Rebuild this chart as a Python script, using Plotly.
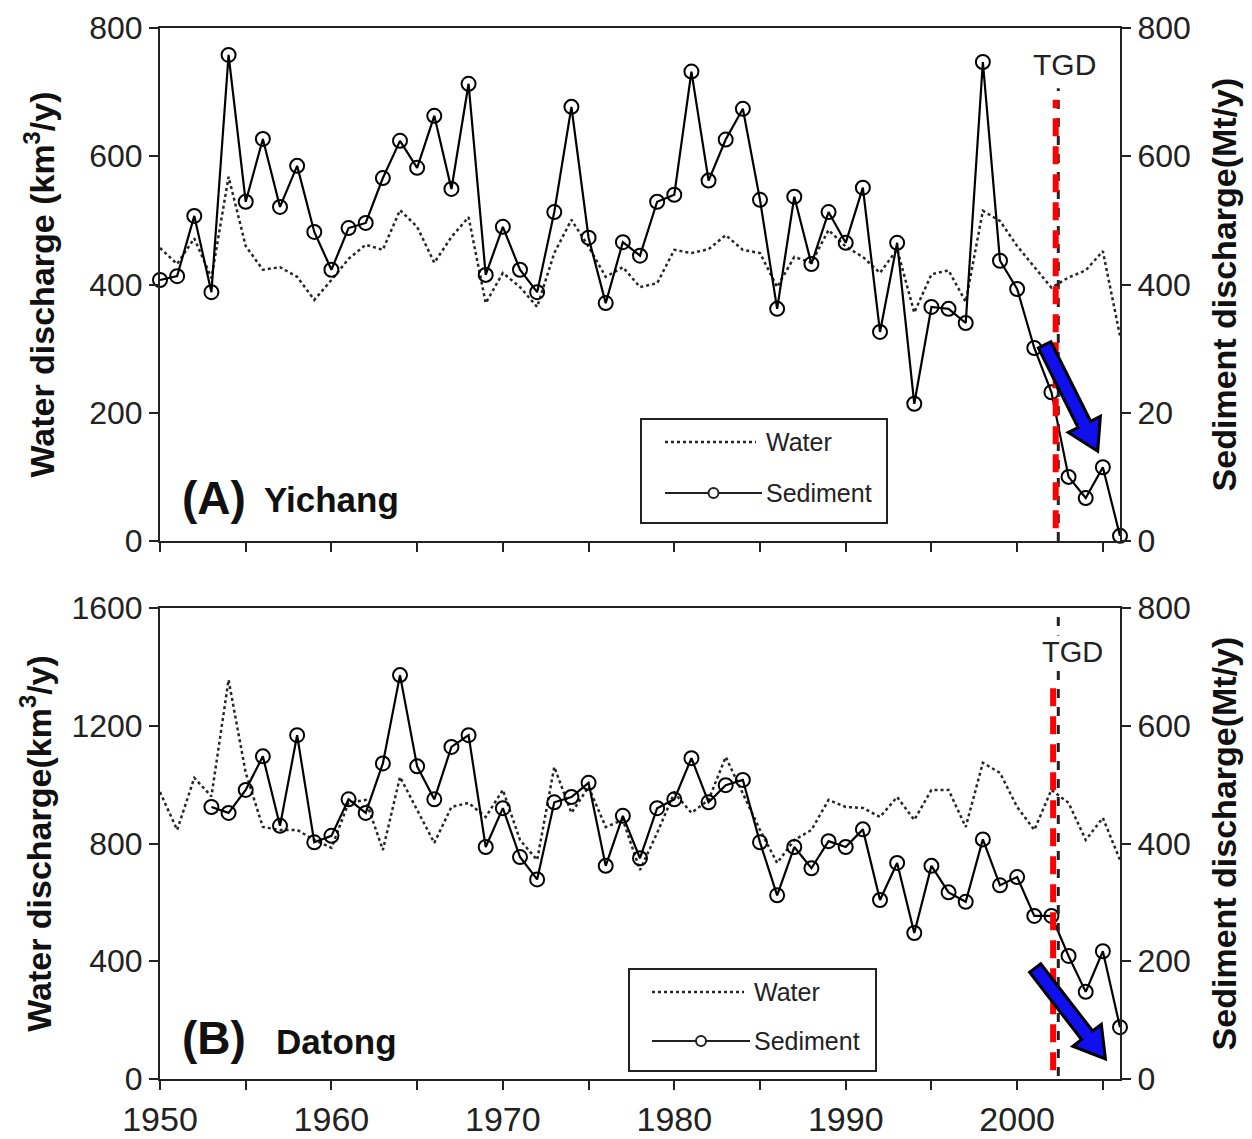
import math
import plotly.graph_objects as go

# ---------------- data ----------------
years = list(range(1950, 2007))
years_datong_sed = list(range(1953, 2007))

yichang_water = [457, 432, 472, 410, 568, 460, 423, 427, 412, 376,
                 407, 440, 462, 454, 516, 490, 434, 474, 505, 371,
                 418, 396, 365, 449, 501, 459, 412, 427, 396, 402,
                 454, 449, 455, 477, 454, 449, 396, 443, 434, 485,
                 459, 443, 418, 455, 356, 416, 422, 373, 515, 499,
                 460, 427, 395, 411, 422, 452, 320]
yichang_sed = [407, 413, 507, 388, 758, 529, 627, 521, 585, 482,
               423, 488, 496, 566, 624, 582, 663, 549, 713, 415,
               490, 423, 388, 513, 677, 473, 371, 466, 445, 529,
               540, 732, 562, 626, 674, 532, 362, 537, 432, 513,
               465, 551, 326, 465, 214, 365, 362, 340, 747, 437,
               393, 301, 232, 100, 67, 115, 8]

datong_water = [975, 846, 1023, 960, 1356, 1040, 856, 846, 846, 812,
                785, 938, 948, 778, 1026, 914, 802, 924, 938, 890,
                982, 812, 744, 1060, 904, 992, 856, 880, 710, 836,
                972, 904, 948, 1094, 972, 846, 734, 812, 846, 948,
                924, 921, 890, 958, 880, 982, 982, 856, 1074, 1040,
                924, 846, 982, 938, 812, 887, 744]
datong_sed = [462, 452, 491, 548, 430, 584, 402,
              413, 475, 452, 536, 686, 531, 475, 564, 584, 394,
              460, 377, 339, 470, 479, 503, 362, 447, 375, 460,
              475, 545, 470, 499, 508, 402, 312, 394, 358, 404,
              394, 424, 304, 367, 248, 362, 317, 301, 407, 329,
              343, 277, 277, 209, 148, 217, 88]

top_left_ticks = [0, 200, 400, 600, 800]
top_right_ticktext = ["0", "20", "400", "600", "800"]
bot_left_ticks = [0, 400, 800, 1200, 1600]
bot_right_ticks = [0, 200, 400, 600, 800]
tgd_year = 2002.4
tgd_red_year = 2002.25

# ---------------- layout geometry ----------------
# the page body adds an 8px offset; compensate so the plot area sits at
# x 160..1120 and y 28..1079 in the screenshot
OFF = 8
W, H = 1252 - OFF, 1139 - OFF
PX0, PX1, PY0, PY1 = 160, 1120, 28, 1079
ML = PX0 - OFF
MT = PY0 - OFF
MR = W - (PX1 - OFF)
MB = H - (PY1 - OFF)
PW = PX1 - PX0
PH = PY1 - PY0
top_dom = [(PY1 - 541) / PH, 1.0]
bot_dom = [0.0, (PY1 - 608) / PH]
XR = [1950, 2006]

FONT = "Liberation Sans, Arial, sans-serif"

fig = go.Figure()

water_style = dict(color="#262626", width=2.5, dash="dot")
sed_line = dict(color="black", width=2.2)
sed_marker = dict(symbol="circle-open", size=14, color="black", line=dict(width=2, color="black"))

fig.add_trace(go.Scatter(x=years, y=yichang_water, mode="lines", line=water_style,
                         name="Water", xaxis="x", yaxis="y", showlegend=False))
fig.add_trace(go.Scatter(x=years, y=yichang_sed, mode="lines+markers", line=sed_line,
                         marker=sed_marker, name="Sediment", xaxis="x", yaxis="y2",
                         showlegend=False, cliponaxis=False))
fig.add_trace(go.Scatter(x=years, y=datong_water, mode="lines", line=water_style,
                         name="Water", xaxis="x2", yaxis="y3", showlegend=False))
fig.add_trace(go.Scatter(x=years_datong_sed, y=datong_sed, mode="lines+markers", line=sed_line,
                         marker=sed_marker, name="Sediment", xaxis="x2", yaxis="y4",
                         showlegend=False, cliponaxis=False))

tickfont = dict(family=FONT, size=32, color="#222")
titlefont = dict(family=FONT, size=34, color="#111", weight="bold")

axis_common = dict(showline=True, linecolor="#222", linewidth=2, ticks="outside",
                   ticklen=9, tickwidth=2, tickcolor="#222", showgrid=False, zeroline=False,
                   automargin=False)
minor_x = dict(dtick=5, ticks="outside", ticklen=9, tickwidth=2, tickcolor="#222", showgrid=False)

fig.update_layout(
    width=W, height=H,
    margin=dict(l=ML, r=MR, t=MT, b=MB, autoexpand=False),
    paper_bgcolor="white", plot_bgcolor="white",
    font=dict(family=FONT, color="#222"),
    xaxis=dict(domain=[0, 1], anchor="y", range=XR, tick0=1950, dtick=10,
               showticklabels=False, minor=minor_x, mirror=True, **axis_common),
    yaxis=dict(domain=top_dom, anchor="x", range=[0, 800], tickvals=top_left_ticks,
               tickfont=tickfont,
               title=dict(text="Water discharge (km<sup>3</sup>/y)", font=titlefont, standoff=24),
               **axis_common),
    yaxis2=dict(overlaying="y", side="right", anchor="x", range=[0, 800],
                tickvals=top_left_ticks, ticktext=top_right_ticktext, tickfont=tickfont,
                title=dict(text="Sediment discharge(Mt/y)", font=titlefont, standoff=22),
                **axis_common),
    xaxis2=dict(domain=[0, 1], anchor="y3", range=XR, tick0=1950, dtick=10,
                tickfont=dict(family=FONT, size=34, color="#222"), minor=minor_x,
                mirror=True, **axis_common),
    yaxis3=dict(domain=bot_dom, anchor="x2", range=[0, 1600], tickvals=bot_left_ticks,
                tickfont=tickfont,
                title=dict(text="Water discharge(km<sup>3</sup>/y)", font=titlefont, standoff=10),
                **axis_common),
    yaxis4=dict(overlaying="y3", side="right", anchor="x2", range=[0, 800],
                tickvals=bot_right_ticks, tickfont=tickfont,
                title=dict(text="Sediment discharge(Mt/y)", font=titlefont, standoff=22),
                **axis_common),
)

# ---------------- TGD lines ----------------
shapes = []
shapes.append(dict(type="line", xref="x", yref="y", x0=tgd_year, x1=tgd_year, y0=0, y1=706,
                   line=dict(color="#222", width=3, dash="dash"), layer="above"))
shapes.append(dict(type="line", xref="x", yref="y", x0=tgd_red_year, x1=tgd_red_year, y0=20, y1=688,
                   line=dict(color="red", width=6, dash="18px,10px"), layer="above"))
shapes.append(dict(type="line", xref="x2", yref="y3", x0=tgd_year, x1=tgd_year, y0=10, y1=1590,
                   line=dict(color="#222", width=3, dash="dash"), layer="above"))
shapes.append(dict(type="line", xref="x2", yref="y3", x0=tgd_red_year - 0.15, x1=tgd_red_year - 0.15,
                   y0=30, y1=1330, line=dict(color="red", width=6, dash="18px,10px"), layer="above"))


# ---------------- block arrows ----------------
def arrow_path(x0, y0, x1, y1, sx, sy, half_shaft=7, half_head=18, head_len=30):
    X0, Y0, X1, Y1 = x0 * sx, y0 * sy, x1 * sx, y1 * sy
    dx, dy = X1 - X0, Y1 - Y0
    L = math.hypot(dx, dy)
    ux, uy = dx / L, dy / L
    nx, ny = -uy, ux
    bx, by = X1 - ux * head_len, Y1 - uy * head_len
    pts = [(X0 + nx * half_shaft, Y0 + ny * half_shaft),
           (bx + nx * half_shaft, by + ny * half_shaft),
           (bx + nx * half_head, by + ny * half_head),
           (X1, Y1),
           (bx - nx * half_head, by - ny * half_head),
           (bx - nx * half_shaft, by - ny * half_shaft),
           (X0 - nx * half_shaft, Y0 - ny * half_shaft)]
    return "M " + " L ".join(f"{px / sx:.4f},{py / sy:.4f}" for px, py in pts) + " Z"


sx = PW / (XR[1] - XR[0])
sy_top = (541 - PY0) / 800
sy_bot = (PY1 - 608) / 1600
shapes.append(dict(type="path", xref="x", yref="y",
                   path=arrow_path(2001.6, 306, 2004.7, 140, sx, sy_top),
                   fillcolor="#1010ee", line=dict(color="black", width=3), layer="above"))
shapes.append(dict(type="path", xref="x2", yref="y3",
                   path=arrow_path(2001.05, 377, 2005.15, 68, sx, sy_bot),
                   fillcolor="#1010ee", line=dict(color="black", width=3), layer="above"))


# ---------------- manual legends (paper coords from screenshot pixel positions) ----------------
def pxx(p):
    return (p - PX0) / PW


def pxy(p):
    return (PY1 - p) / PH


annotations = []


def legend_box(x0, y0, x1, y1, wy, sy_, lx0, lx1, tx):
    shapes.append(dict(type="rect", xref="paper", yref="paper", x0=pxx(x0), x1=pxx(x1),
                       y0=pxy(y1), y1=pxy(y0), line=dict(color="#222", width=2),
                       fillcolor="white", layer="above"))
    shapes.append(dict(type="line", xref="paper", yref="paper", x0=pxx(lx0), x1=pxx(lx1 - 6),
                       y0=pxy(wy), y1=pxy(wy), line=dict(color="#262626", width=2.6, dash="dot"),
                       layer="above"))
    shapes.append(dict(type="line", xref="paper", yref="paper", x0=pxx(lx0), x1=pxx(lx1),
                       y0=pxy(sy_), y1=pxy(sy_), line=dict(color="#222", width=2.2), layer="above"))
    cx = (lx0 + lx1) / 2
    shapes.append(dict(type="circle", xref="paper", yref="paper", x0=pxx(cx - 5), x1=pxx(cx + 5),
                       y0=pxy(sy_ + 5), y1=pxy(sy_ - 5), line=dict(color="#222", width=2),
                       fillcolor="white", layer="above"))
    annotations.append(dict(xref="paper", yref="paper", x=pxx(tx), y=pxy(wy), text="Water",
                            showarrow=False, xanchor="left", yanchor="middle",
                            font=dict(family=FONT, size=25, color="#222")))
    annotations.append(dict(xref="paper", yref="paper", x=pxx(tx), y=pxy(sy_), text="Sediment",
                            showarrow=False, xanchor="left", yanchor="middle",
                            font=dict(family=FONT, size=25, color="#222")))


legend_box(641, 419, 887, 523, 442, 493, 665, 762, 764)
legend_box(629, 969, 876, 1071, 992, 1041, 652, 750, 752)

# ---------------- text labels ----------------
annotations.append(dict(xref="paper", yref="paper", x=pxx(180), y=pxy(498), xanchor="left",
                        yanchor="middle", showarrow=False,
                        text="<b>(A)</b>", font=dict(family=FONT, size=46, color="#111")))
annotations.append(dict(xref="paper", yref="paper", x=pxx(262), y=pxy(499), xanchor="left",
                        yanchor="middle", showarrow=False,
                        text="<b>Yichang</b>", font=dict(family=FONT, size=35, color="#111")))
annotations.append(dict(xref="paper", yref="paper", x=pxx(180), y=pxy(1038), xanchor="left",
                        yanchor="middle", showarrow=False,
                        text="<b>(B)</b>", font=dict(family=FONT, size=46, color="#111")))
annotations.append(dict(xref="paper", yref="paper", x=pxx(274), y=pxy(1041), xanchor="left",
                        yanchor="middle", showarrow=False,
                        text="<b>Datong</b>", font=dict(family=FONT, size=35, color="#111")))
annotations.append(dict(xref="paper", yref="paper", x=pxx(1064), y=pxy(64), xanchor="center",
                        yanchor="middle", showarrow=False,
                        text="TGD", font=dict(family=FONT, size=30, color="#222")))
annotations.append(dict(xref="paper", yref="paper", x=pxx(1072), y=pxy(652), xanchor="center",
                        yanchor="middle", showarrow=False, bgcolor="white", borderpad=0,
                        text="TGD", font=dict(family=FONT, size=29, color="#222")))

fig.update_layout(shapes=shapes, annotations=annotations)

fig.write_html("out.html")
